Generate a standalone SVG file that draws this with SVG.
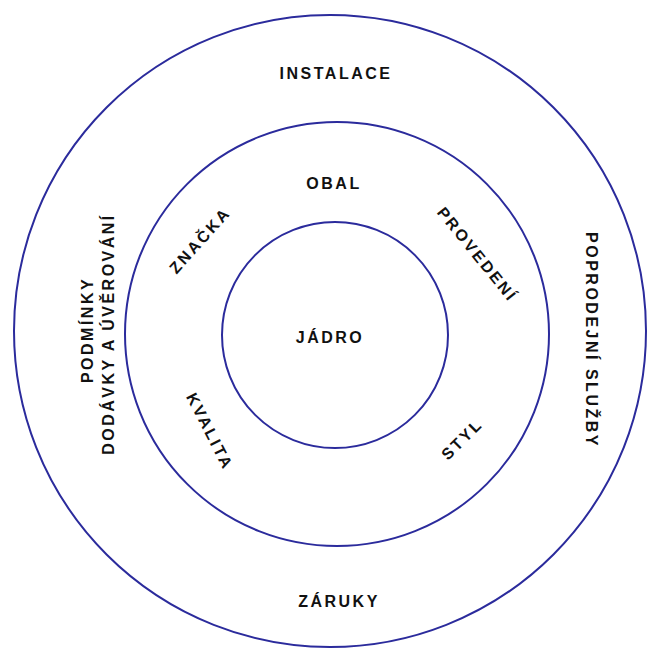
<svg xmlns="http://www.w3.org/2000/svg" width="650" height="657" viewBox="0 0 650 657">
<style>
.ring{fill:none;stroke:#2b2b9c;stroke-width:2}
.t{font-family:"Liberation Sans",Arial,sans-serif;font-weight:bold;font-size:16px;fill:#111;text-anchor:middle;letter-spacing:2.5px}
</style>
<rect width="650" height="657" fill="#ffffff"/>
<g id="rings">
<circle id="outer" class="ring" cx="330" cy="331" r="316"/>
<circle id="middle" class="ring" cx="337" cy="334" r="212"/>
<circle id="inner" class="ring" cx="335" cy="335" r="113"/>
</g>
<g id="labels">
<text class="t" x="336" y="79">INSTALACE</text>
<text class="t" x="334" y="189">OBAL</text>
<text class="t" x="330" y="343">JÁDRO</text>
<text class="t" x="339" y="607">ZÁRUKY</text>
<text class="t" transform="translate(204,244) rotate(-48)">ZNAČKA</text>
<text class="t" transform="translate(473,258) rotate(51)">PROVEDENÍ</text>
<text class="t" transform="translate(205,434) rotate(63)">KVALITA</text>
<text class="t" transform="translate(466,443) rotate(-45)">STYL</text>
<text class="t" transform="translate(93,330) rotate(-90)">PODMÍNKY</text>
<text class="t" transform="translate(114,334) rotate(-90)">DODÁVKY A ÚVĚROVÁNÍ</text>
<text class="t" transform="translate(586,340) rotate(90)">POPRODEJNÍ SLUŽBY</text>
</g>
</svg>
